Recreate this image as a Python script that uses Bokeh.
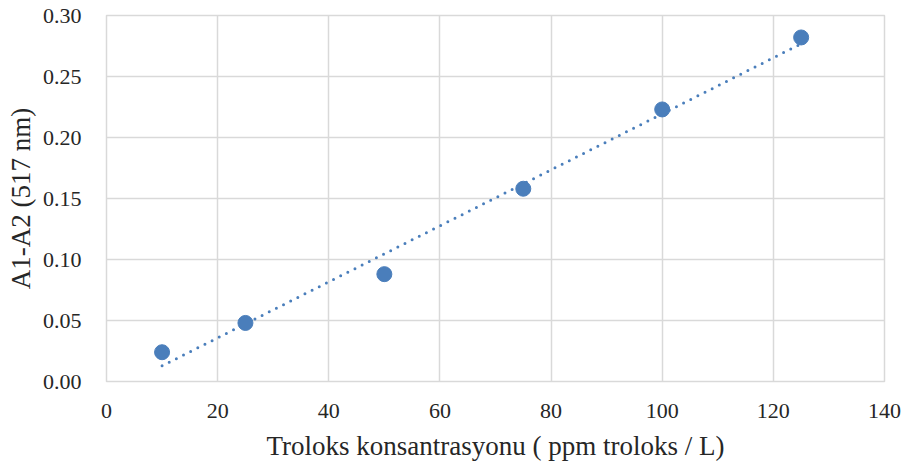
import numpy as np
from bokeh.plotting import figure
from bokeh.models import NumeralTickFormatter, FixedTicker, Range1d
from bokeh.embed import file_html
from bokeh.resources import INLINE

conc = [10, 25, 50, 75, 100, 125]
absorb = [0.024, 0.048, 0.088, 0.158, 0.223, 0.282]
x_ticks = [0, 20, 40, 60, 80, 100, 120, 140]
y_ticks = [0.0, 0.05, 0.10, 0.15, 0.20, 0.25, 0.30]

slope, intercept = np.polyfit(conc, absorb, 1)
trend_x = [min(conc), max(conc)]
trend_y = [slope * v + intercept for v in trend_x]

FONT = "Liberation Serif"
GRID = "#d9d9d9"
BLUE = "#4a7ebb"

p = figure(width=907, height=467, output_backend="svg", toolbar_location=None,
           x_range=Range1d(0, 140), y_range=Range1d(0, 0.30),
           min_border_left=106, min_border_right=23, min_border_top=15, min_border_bottom=86)

p.line(trend_x, trend_y, line_color=BLUE, line_width=3, line_dash="0 8", line_cap="round")
p.scatter(conc, absorb, size=15, fill_color=BLUE, line_color=BLUE)

p.xaxis.ticker = FixedTicker(ticks=x_ticks)
p.yaxis.ticker = FixedTicker(ticks=y_ticks)
p.yaxis.formatter = NumeralTickFormatter(format="0.00")

for ax in (p.xaxis, p.yaxis):
    ax.axis_line_color = None
    ax.major_tick_line_color = None
    ax.minor_tick_line_color = None
    ax.major_label_text_font = FONT
    ax.major_label_text_font_size = "22px"
    ax.major_label_text_color = "#262626"
    ax.axis_label_text_font = FONT
    ax.axis_label_text_font_size = "27px"
    ax.axis_label_text_font_style = "normal"
    ax.axis_label_text_color = "#262626"

p.xaxis.axis_label = "Troloks konsantrasyonu ( ppm troloks / L)"
p.yaxis.axis_label = "A1-A2 (517 nm)"
p.xaxis.major_label_standoff = 16
p.yaxis.major_label_standoff = 19
p.xaxis.axis_label_standoff = 10
p.yaxis.axis_label_standoff = 4

p.xgrid.grid_line_color = GRID
p.ygrid.grid_line_color = GRID
p.xgrid.grid_line_width = 1.5
p.ygrid.grid_line_width = 1.5
p.outline_line_color = GRID
p.outline_line_width = 1.5
p.outline_line_alpha = 1.0

open("out.html", "w").write(file_html(p, INLINE))
